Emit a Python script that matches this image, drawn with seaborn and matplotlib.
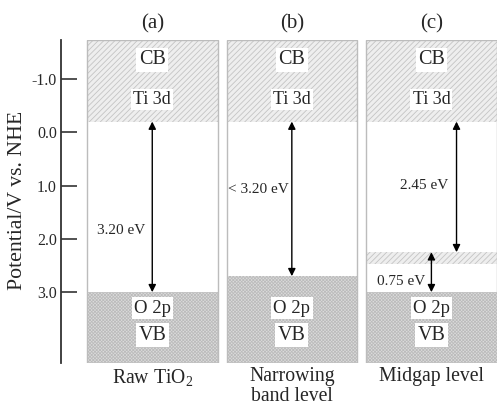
import matplotlib
matplotlib.use("Agg")
import matplotlib.pyplot as plt
import seaborn as sns

# Band positions (V vs. NHE) for the three TiO2 cases
panel_tags = ["(a)", "(b)", "(c)"]
case_names = ["Raw TiO$_2$", "Narrowing\nband level", "Midgap level"]
cb_edge = [-0.20, -0.20, -0.20]
vb_edge = [3.00, 2.70, 3.00]
gap_labels = ["3.20 eV", "< 3.20 eV", "2.45 eV"]
midgap_top = 2.25
midgap_bottom = 2.47
midgap_label = "0.75 eV"
tick_values = [-1.0, 0.0, 1.0, 2.0, 3.0]
tick_labels = ["-1.0", "0.0", "1.0", "2.0", "3.0"]

sns.set_style("ticks")
plt.rcParams["font.family"] = ["Liberation Serif", "DejaVu Serif"]
plt.rcParams["mathtext.fontset"] = "custom"
plt.rcParams["mathtext.rm"] = "Liberation Serif"
plt.rcParams["hatch.linewidth"] = 0.6

fig = plt.figure(figsize=(4.97, 4.08), dpi=100)
ax = fig.add_axes([0.1227, 0.110, 0.8773, 0.792])

y_top, y_bottom = -1.73, 4.33
width = 0.935
ax.set_xlim(-0.654, 2.47)
ax.set_ylim(y_bottom, y_top)

frame = "#bcbcbc"
cb_face, cb_hatch = "#eeeeee", "#c4c4c4"
vb_face, vb_hatch = "#dcdcdc", "#bcbcbc"
box = dict(boxstyle="square,pad=0.12", facecolor="white", edgecolor="none")

for i in range(3):
    left = i - width / 2
    ax.add_patch(plt.Rectangle((left, y_top), width, y_bottom - y_top,
                               facecolor="white", edgecolor="none", zorder=1))
    # conduction band (hatched)
    ax.add_patch(plt.Rectangle((left, y_top), width, cb_edge[i] - y_top,
                               facecolor=cb_face, edgecolor=cb_hatch, hatch="//////",
                               lw=0, zorder=2))
    # valence band (fine dotted)
    ax.add_patch(plt.Rectangle((left, vb_edge[i]), width, y_bottom - vb_edge[i],
                               facecolor=vb_face, edgecolor=vb_hatch, hatch="xxxxxxxxxx",
                               lw=0, zorder=2))
    ax.add_patch(plt.Rectangle((left, y_top), width, y_bottom - y_top,
                               facecolor="none", edgecolor=frame, lw=1.0, zorder=3))

    ax.text(i, -1.36, "CB", ha="center", va="center", fontsize=14.5, bbox=box, zorder=5)
    ax.text(i, -0.61, "Ti 3d", ha="center", va="center", fontsize=13, bbox=box, zorder=5)
    ax.text(i, 3.30, "O 2p", ha="center", va="center", fontsize=13.5, bbox=box, zorder=5)
    ax.text(i, 3.81, "VB", ha="center", va="center", fontsize=14.5, bbox=box, zorder=5)
    ax.text(i, -2.03, panel_tags[i], ha="center", va="center", fontsize=15, clip_on=False)
    ax.text(i, 4.41, case_names[i], ha="center", va="top", fontsize=14.2,
            linespacing=1.05, clip_on=False)

# midgap state in case (c)
ax.add_patch(plt.Rectangle((2 - width / 2, midgap_top), width, midgap_bottom - midgap_top,
                           facecolor=cb_face, edgecolor=cb_hatch, hatch="//////",
                           lw=0, zorder=2))

arrow = dict(arrowstyle="<|-|>", color="black", lw=1.0, mutation_scale=11,
             shrinkA=0, shrinkB=0)
gap_x = [0.0, 0.0, 0.18]
gap_ends = [vb_edge[0], vb_edge[1], midgap_top]
text_x = [-0.225, -0.24, -0.05]
text_y = [1.85, 1.08, 1.00]
for i in range(3):
    ax.annotate("", xy=(i + gap_x[i], gap_ends[i]), xytext=(i + gap_x[i], cb_edge[i]),
                arrowprops=arrow, zorder=6)
    ax.text(i + text_x[i], text_y[i], gap_labels[i], ha="center", va="center",
            fontsize=11, zorder=6)

ax.annotate("", xy=(2.0, vb_edge[2]), xytext=(2.0, midgap_top),
            arrowprops=arrow, zorder=6)
ax.text(2 - 0.22, 2.79, midgap_label, ha="center", va="center", fontsize=11, zorder=6)

# left axis
ax.set_yticks(tick_values)
ax.set_yticklabels(tick_labels, fontsize=11.4)
ax.set_xticks([])
ax.tick_params(axis="y", direction="in", length=11.5, width=1.2, pad=3, color="#333333")
for side in ["top", "right", "bottom"]:
    ax.spines[side].set_visible(False)
ax.spines["left"].set_linewidth(1.3)
ax.spines["left"].set_color("#333333")
fig.text(18 / 497, 0.51, "Potential/V vs. NHE", rotation=90, ha="center", va="center",
         fontsize=15.7)

fig.savefig("out.png", dpi=100)
